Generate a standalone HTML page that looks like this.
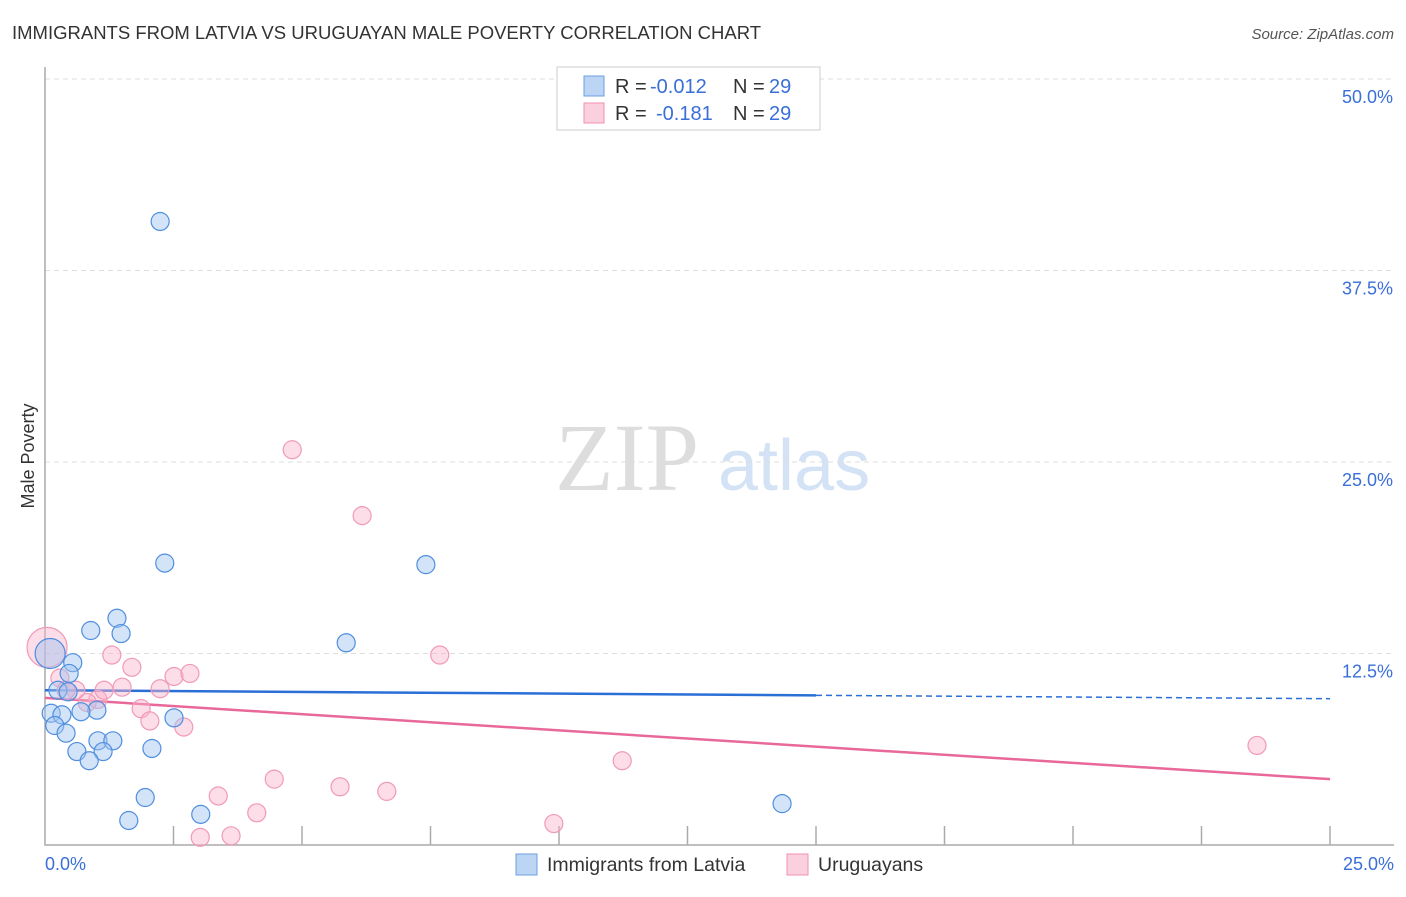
<!DOCTYPE html>
<html><head><meta charset="utf-8"><style>
body{margin:0;background:#fff;font-family:"Liberation Sans",sans-serif;}
</style></head><body>
<svg id="chart" width="1406" height="892" xmlns="http://www.w3.org/2000/svg">
<text x="12" y="39" font-size="18.5" fill="#333">IMMIGRANTS FROM LATVIA VS URUGUAYAN MALE POVERTY CORRELATION CHART</text>
<text x="1394" y="39" font-size="15" fill="#555" font-style="italic" text-anchor="end">Source: ZipAtlas.com</text>
<text transform="translate(34,456) rotate(-90)" font-size="18" fill="#333" text-anchor="middle">Male Poverty</text>
<g><text x="555" y="490" font-size="96" fill="#ddd" font-family="Liberation Serif,serif">ZIP</text><text x="718" y="490" font-size="72" fill="#d3e3f5">atlas</text></g>
<g id="grid"></g><g id="axes"></g><g id="trend"></g><g id="pts"></g>
<g>
<rect x="557" y="67" width="263" height="63" fill="#fff" stroke="#ccc"/>
<rect x="584" y="76" width="20" height="20" fill="#bcd5f5" stroke="#6a9fe0"/>
<rect x="584" y="103" width="20" height="20" fill="#fbd0de" stroke="#f08fb0"/>
<text x="615" y="93" font-size="20" fill="#333">R =</text>
<text x="650" y="93" font-size="20" fill="#3a6fd8">-0.012</text>
<text x="733" y="93" font-size="20" fill="#333">N =</text>
<text x="769" y="93" font-size="20" fill="#3a6fd8">29</text>
<text x="615" y="120" font-size="20" fill="#333">R =</text>
<text x="656" y="120" font-size="20" fill="#3a6fd8">-0.181</text>
<text x="733" y="120" font-size="20" fill="#333">N =</text>
<text x="769" y="120" font-size="20" fill="#3a6fd8">29</text>
</g>
<g>
<rect x="516" y="854" width="21" height="21" fill="#bcd5f5" stroke="#6a9fe0"/>
<text x="547" y="871" font-size="19.5" fill="#333">Immigrants from Latvia</text>
<rect x="787" y="854" width="21" height="21" fill="#fbd0de" stroke="#f08fb0"/>
<text x="818" y="871" font-size="19.5" fill="#333">Uruguayans</text>
</g>
</svg>
<script>
const yTicks=[12.5,25,37.5,50];
const yTickLabels=["12.5%","25.0%","37.5%","50.0%"];
const xTickLabels=["0.0%","25.0%"];
const blueX=[2.24,2.33,7.41,1.40,0.89,1.48,5.86,0.10,0.54,0.47,0.25,1.01,0.70,0.12,0.33,0.19,0.41,1.03,1.32,0.62,1.13,0.86,2.08,2.51,1.95,1.63,3.03,14.34,0.45];
const blueY=[40.7,18.4,18.3,14.8,14.0,13.8,13.2,12.5,11.9,11.2,10.1,8.8,8.7,8.6,8.5,7.8,7.3,6.8,6.8,6.1,6.1,5.5,6.3,8.3,3.1,1.6,2.0,2.7,10.0];
const pinkX=[0.04,4.81,6.17,7.68,1.30,1.69,0.29,0.60,1.03,1.50,1.15,2.24,2.51,2.82,1.87,2.04,2.70,4.46,3.37,5.74,6.65,4.12,3.02,3.62,9.90,11.23,23.58,0.82,0.41];
const pinkY=[12.9,25.8,21.5,12.4,12.4,11.6,10.9,10.1,9.5,10.3,10.1,10.2,11.0,11.2,8.9,8.1,7.7,4.3,3.2,3.8,3.5,2.1,0.5,0.6,1.4,5.5,6.5,9.3,10.1];
const blueTrend=[10.1,9.55];
const pinkTrend=[9.6,4.3];
const X=v=>45+v/25*1285, Y=v=>845-v/12.5*191.5;
const NS="http://www.w3.org/2000/svg";
function mk(p,t,a){const e=document.createElementNS(NS,t);for(const k in a)e.setAttribute(k,a[k]);document.getElementById(p).appendChild(e);return e;}
yTicks.forEach((t,i)=>{
 const l=mk('grid','line',{x1:45,x2:1394,y1:Y(t),y2:Y(t),stroke:'#ddd','stroke-dasharray':'5,4'});
 
 
 const tx=mk('grid','text',{x:1393,y:Y(t)+24,'font-size':18,fill:'#3a6fd8','text-anchor':'end'});tx.textContent=yTickLabels[i];
 
 
});
const ax=mk('axes','path',{d:'M45,67 V845 H1394',fill:'none',stroke:'#aaa','stroke-width':1.5});


for(let i=1;i<=10;i++){const t=mk('axes','line',{x1:X(i*2.5),x2:X(i*2.5),y1:826,y2:845,stroke:'#aaa','stroke-width':1.5});
 
 }
[[0,45,'start'],[25,1394,'end']].forEach((d,i)=>{const t=mk('axes','text',{x:d[1],y:870,'font-size':18,fill:'#3a6fd8','text-anchor':d[2]});t.textContent=xTickLabels[i];
 
 });
const bs=blueTrend[0],be=blueTrend[1],bm=bs+(be-bs)*15/25;
let l1=mk('trend','line',{x1:X(0),y1:Y(bs),x2:X(15),y2:Y(bm),stroke:'#2a6fd6','stroke-width':2.5});


let l2=mk('trend','line',{x1:X(15),y1:Y(bm),x2:X(25),y2:Y(be),stroke:'#2a6fd6','stroke-width':1.5,'stroke-dasharray':'6,4'});


let l3=mk('trend','line',{x1:X(0),y1:Y(pinkTrend[0]),x2:X(25),y2:Y(pinkTrend[1]),stroke:'#e8689a','stroke-width':2.5});


pinkX.forEach((v,i)=>{const c=mk('pts','circle',{cx:X(v),cy:Y(pinkY[i]),r:i==0?20:9,fill:'rgba(248,180,204,0.45)',stroke:'#f09ab8','stroke-width':1.2});
 
 });
blueX.forEach((v,i)=>{const c=mk('pts','circle',{cx:X(v),cy:Y(blueY[i]),r:i==7?15:9,fill:'rgba(160,196,240,0.45)',stroke:'#4f8ee0','stroke-width':1.2});
 
 });
</script>
</body></html>
